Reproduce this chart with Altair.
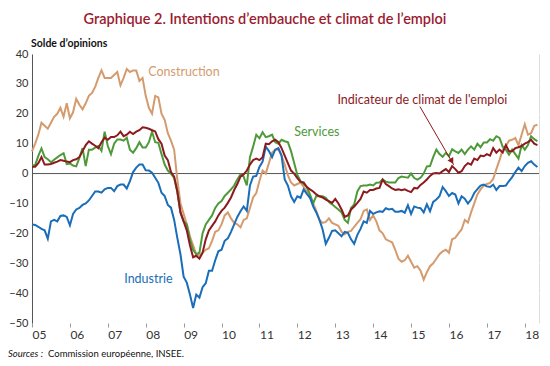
import altair as alt
import pandas as pd

# Monthly data, Jan 2005 (index 0) to May 2018 (index 160)
construction = [
    7.4, 10, 13, 17, 16, 15, 17, 19, 20, 22, 19, 23.5,
    18.5, 20.5, 25, 23, 21.5, 23.5, 26, 27, 29, 32, 34.5, 32,
    32, 32, 33, 34, 29.5, 32, 35, 34, 34.5, 34.5, 31, 32,
    26, 22, 20, 26, 25.5, 20, 18, 13.5, 11, 8, -2, -10,
    -13.5, -17, -21, -24, -27, -27.5, -26.5, -25.5, -25, -22.5, -19.5, -19,
    -17, -14, -13, -15, -16.5, -17, -18, -15.5, -15, -11.5, -8, -6.5,
    -2.5, 1, 0, 3.5, 7, 8, 8, 6, 3, -0.5, -3, -4,
    -3.5, -3, -4.5, -6, -8, -10, -12.5, -15.5, -16.5, -16.2, -15, -16.5,
    -17, -17.5, -19.5, -20.3, -19.5, -19.2, -17.8, -16.5, -15.3, -12.5, -12, -15.5,
    -14, -16, -19, -20, -22, -22.5, -23, -25.5, -28.5, -29.5, -29, -27.5,
    -29.5, -31.5, -31, -32.5, -35.5, -33, -31, -30, -28.5, -27, -26, -25.5,
    -26.5, -22, -21.5, -20, -18.7, -15.5, -16.4, -13, -10, -7, -5.3, -4,
    -3.5, -3.1, -1.8, 1.5, 4.5, 8, 9.2, 11, 11.3, 11.9, 9.5, 13,
    16.5, 13, 13.5, 16, 16.3,
]
services = [
    2.8, 2.8, 5.9, 8.4, 5.5, 4.8, 3.8, 4.6, 5.4, 6.2, 6.8, 3.2,
    3.4, 2.7, 2.4, 5.2, 8.5, 2.5, 8, 8, 8.7, 9.2, 7.6, 14,
    9.2, 6.5, 10, 11.4, 11.4, 11, 12, 8, 7, 8.5, 10.5, 8.7,
    8.7, 10.5, 14, 10.5, 10.3, 6.5, 3, 1, 0, -1.5, -6, -13,
    -16, -17, -22, -25.5, -27, -26.5, -20, -17, -15.5, -14, -11.5, -10,
    -9.2, -7.5, -6.4, -5.3, -4, -2, -0.3, -1, -4, 5.5, 9, 13,
    11.8, 13.8, 12.2, 12.5, 13, 10.5, 10, 11.3, 10.8, 10.5, 7.5, 3.5,
    -0.5, -2.5, -3.5, -4.5, -7, -10, -7.5, -7.6, -7.6, -8.1, -9.5, -10.3,
    -11.2, -12, -13, -15.5, -16.5, -11.5, -10.3, -6, -4.2, -4, -4, -3.7,
    -4, -3.1, -3, -2, -2.7, -3, -3, -3, -1.5, -1, -1.2, -1.4,
    0, -1.5, -2, -1.4, 0, 2.4, 2.5, 5.5, 8, 6.5, 5.6, 6.9,
    5.8, 8.1, 7.4, 6.9, 8, 6.5, 8, 9.1, 8, 10, 8.8, 10.4,
    10.4, 11.5, 11, 12.5, 11.9, 9, 8, 6.3, 8, 6.5, 5, 9.5,
    8, 9.5, 12.5, 11.5, 10.8,
]
industrie = [
    -17, -17.2, -17.8, -18.5, -19, -21.8, -16, -15.5, -16, -14.2, -14, -14.5,
    -17.3, -13.5, -12, -11.5, -10.5, -10, -9, -7.5, -6, -6, -6.4, -5.3,
    -4.8, -4.8, -5.9, -4.2, -3.7, -3.7, -5, -2.5, 0.5, 2, 3, 3,
    1.1, 1, 0.3, -1.4, -3.1, -6.4, -7.5, -10.5, -11.4, -15.5, -21.5, -27,
    -34.5, -36.5, -40.5, -45, -40.5, -41.5, -38, -36.7, -32.5, -32.5, -29, -26,
    -25.5, -22.5, -21.7, -19.5, -17, -14.5, -12.6, -11, -12.5, -4, -1, -0.8,
    2.2, 4, 9, 7.5, 5.5, 8, 8.5, 6, -2, -4, -7.6, -9.5,
    -7.6, -8.1, -5.3, -6.8, -8.1, -11, -13, -15.5, -18.7, -23.5, -21.5, -19.2,
    -19, -20, -21, -19.5, -19.8, -22, -23.5, -20.5, -18.5, -16, -16.5, -12.5,
    -13.5, -13, -12.6, -12.8, -11.6, -12, -11.8, -12.8, -12.8, -12.5, -13.1, -10.6,
    -13.5, -11, -11.4, -11.6, -13, -10.3, -12.6, -9.5, -8.7, -7.6, -4.5, -5.9,
    -7.5, -6.5, -7, -10, -7.6, -8.4, -10, -8.7, -6.5, -5.2, -4, -3.7,
    -4.3, -4.5, -3.7, -5.5, -4.2, -4.2, -4, -2.5, -1.2, 0.5, 2, 0.8,
    2.5, 3.6, 4.1, 3, 2.2,
]
indicateur = [
    2.3, 2.3, 3.5, 5.5, 3, 3, 3.2, 3.6, 4, 4.5, 4.3, 4,
    3.8, 4.5, 4.8, 5.5, 7.5, 9.5, 10.8, 10, 9.3, 8.5, 10.5, 12,
    11.3, 12.2, 12.2, 12.8, 14, 12.5, 13, 14, 13.2, 14, 14.5, 15.5,
    15.3, 15, 14.5, 14.1, 11.5, 10, 6, 4.5, 0.5, -1, -6, -13,
    -16, -19, -24, -28, -27.5, -28.5, -26.5, -22, -19, -17.5, -16, -14,
    -12.5, -11.4, -9.8, -8, -5.5, -3.5, -1, -0.3, 1, 3, 4.5, 5,
    4.5, 5.5, 10, 9.8, 10.8, 11.3, 10.5, 8.5, 6, 3.5, 1, 0,
    -1.5, -2.8, -3, -4.5, -5.3, -6, -7, -7.6, -8, -8.7, -9.2, -9.8,
    -8.5, -10, -12, -14.5, -14, -12, -11, -9.8, -8.5, -6, -6.4, -5.5,
    -5.5, -5, -4.8, -2, -3.5, -4.2, -5, -5.5, -5.3, -5.6, -5.3, -5.8,
    -6.2, -4.8, -5, -3.8, -3, -2, -0.8, 0, 0.2, 0, 0.8, 1.5,
    0.5, 2.5, 1.5, 0.3, 0.8, 2.5, 3.5, 3, 5, 4.5, 6, 5.8,
    6.5, 6, 8.5, 7, 8, 7, 9.5, 7.5, 7.5, 8.5, 8.8, 9.2,
    10, 10.5, 11.3, 10, 9.5,
]

series_names = ["Construction", "Services", "Industrie", "Indicateur de climat de l'emploi"]
series_colors = ["#D49B6E", "#4E9A3A", "#1A6DB8", "#8C1A1E"]
year_ticks = [0, 12, 24, 36, 48, 60, 72, 84, 96, 108, 120, 132, 144, 156]
year_labels = ["05", "06", "07", "08", "09", "10", "11", "12", "13", "14", "15", "16", "17", "18"]
y_ticks = [-50, -40, -30, -20, -10, 0, 10, 20, 30, 40]

# label positions (month index, value)
label_m = [36.8, 83.0, 29.2, 96.7]
label_v = [33.9, 13.9, -35.2, 24.6]

FONT = "Lato"

rows = []
for name, vals in zip(series_names, [construction, services, industrie, indicateur]):
    for i, v in enumerate(vals):
        rows.append({"m": i, "v": v, "serie": name})
df = pd.DataFrame(rows)

label_expr = "[" + ",".join("'%s'" % s for s in year_labels) + "][round(datum.value/12)]"

x_scale = alt.Scale(domain=[0, 160.5], nice=False, zero=False)
y_scale = alt.Scale(domain=[-50, 40], nice=False, zero=False)

x_axis = alt.Axis(values=year_ticks, labelExpr=label_expr, grid=False, domain=False,
                  ticks=True, tickSize=4, tickColor="#999999", labelFontSize=12,
                  labelColor="#333333", labelPadding=2, labelAlign="left",
                  labelOverlap=False, labelFont=FONT, title=None)
y_axis = alt.Axis(values=y_ticks, grid=True, gridColor="#FFFFFF", gridWidth=1,
                  domain=True, domainColor="#555555", domainWidth=1, ticks=False,
                  labelPadding=4, labelFontSize=11, labelColor="#333333",
                  labelOverlap=False, labelFont=FONT, title=None)

color_scale = alt.Scale(domain=series_names, range=series_colors)


def X(field):
    return alt.X(field, scale=x_scale, axis=x_axis)


def Y(field):
    return alt.Y(field, scale=y_scale, axis=y_axis)


zero = alt.Chart(pd.DataFrame({"v": [0]})).mark_rule(color="#555555", strokeWidth=1).encode(
    y=Y("v:Q")
)

layers = [zero]
for name in series_names:
    layers.append(
        alt.Chart(df).transform_filter(alt.datum.serie == name).mark_line(strokeWidth=2).encode(
            x=X("m:Q"),
            y=Y("v:Q"),
            color=alt.Color("serie:N", scale=color_scale, legend=None),
        )
    )

lab_df = pd.DataFrame({"m": label_m, "v": label_v, "serie": series_names})
labels = alt.Chart(lab_df).mark_text(align="left", baseline="middle", fontSize=12.5, font=FONT).encode(
    x=X("m:Q"),
    y=Y("v:Q"),
    text="serie:N",
    color=alt.Color("serie:N", scale=color_scale, legend=None),
)

arrow_df = pd.DataFrame({"m": [122.8], "v": [22.4], "m2": [133.5], "v2": [2.9]})
arrow_line = alt.Chart(arrow_df).mark_rule(color="#8C1A1E", strokeWidth=1).encode(
    x=X("m:Q"), y=Y("v:Q"), x2="m2:Q", y2="v2:Q"
)
head_df = pd.DataFrame({"m": [132.9], "v": [4.1]})
arrow_head = alt.Chart(head_df).mark_point(shape="triangle-down", filled=True, size=45,
                                            angle=330, color="#8C1A1E", opacity=1).encode(
    x=X("m:Q"), y=Y("v:Q")
)

title = alt.Chart(pd.DataFrame({"t": ["Graphique 2. Intentions d’embauche et climat de l’emploi"]})).mark_text(
    align="center", baseline="alphabetic", fontSize=14.5, font=FONT, fontWeight=600, color="#9B1B30"
).encode(x=alt.value(233), y=alt.value(-30), text="t:N")

subtitle = alt.Chart(pd.DataFrame({"t": ["Solde d’opinions"]})).mark_text(
    align="left", baseline="alphabetic", fontSize=10.5, font=FONT, fontWeight="bold", color="#111111"
).encode(x=alt.value(-1), y=alt.value(-7), text="t:N")

src1 = alt.Chart(pd.DataFrame({"t": ["Sources :"]})).mark_text(
    align="left", baseline="alphabetic", fontSize=9.5, font=FONT, fontStyle="italic", color="#111111"
).encode(x=alt.value(-24), y=alt.value(303), text="t:N")
src2 = alt.Chart(pd.DataFrame({"t": ["Commission européenne, INSEE."]})).mark_text(
    align="left", baseline="alphabetic", fontSize=9.5, font=FONT, color="#111111"
).encode(x=alt.value(16), y=alt.value(303), text="t:N")

layers += [labels, arrow_line, arrow_head, title, subtitle, src1, src2]

chart = alt.layer(*layers).properties(
    width=507, height=269,
    padding={"left": 24, "top": 46, "right": 3, "bottom": 35},
    autosize=alt.AutoSizeParams(type="none"),
).configure_view(fill="#F2F2F2", stroke=None).configure(background="#FFFFFF")

chart.save("out.html", embed_options={"renderer": "svg", "actions": False})
